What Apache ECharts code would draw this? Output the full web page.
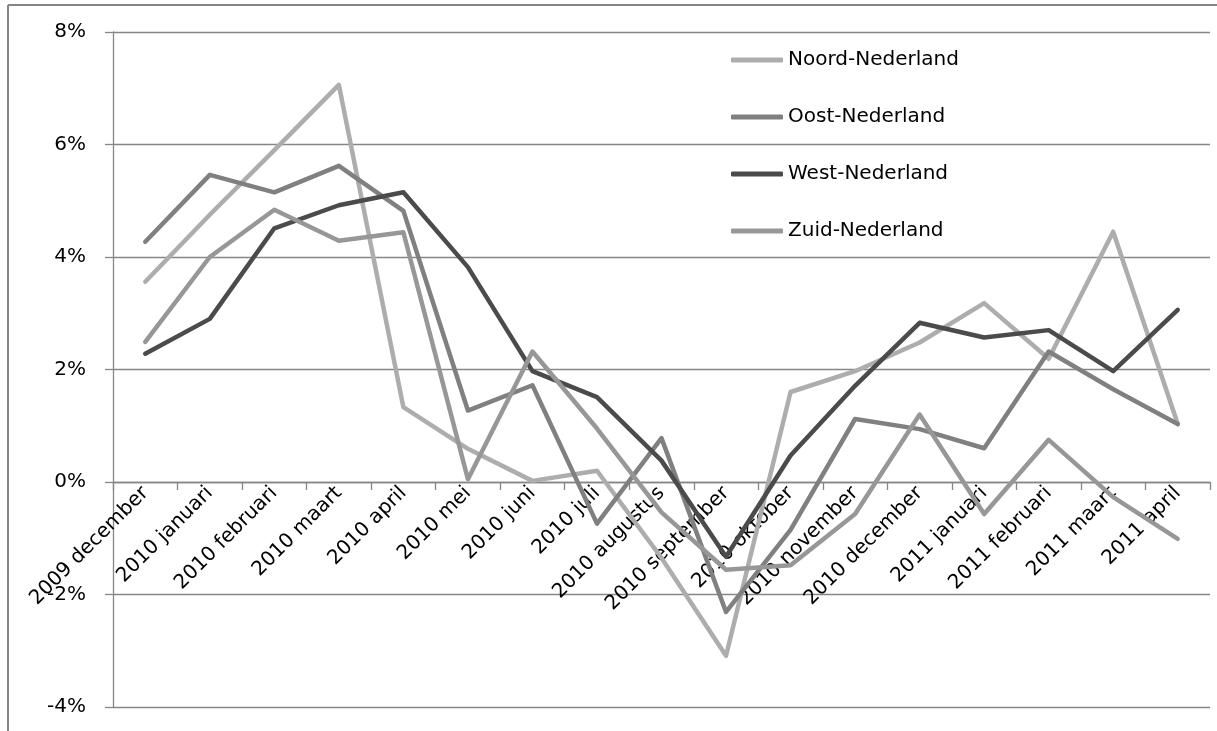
<!DOCTYPE html>
<html>
<head>
<meta charset="utf-8">
<script src="https://cdn.jsdelivr.net/npm/echarts@6/dist/echarts.min.js"></script>
<style>
html,body{margin:0;padding:0;background:#fff;}
#chart{width:1217px;height:731px;}
</style>
</head>
<body>
<div id="chart"></div>
<script>
var categories = ['2009 december','2010 januari','2010 februari','2010 maart','2010 april','2010 mei','2010 juni','2010 juli','2010 augustus','2010 september','2010 oktober','2010 november','2010 december','2011 januari','2011 februari','2011 maart','2011 april'];
var noord = [3.56, 4.75, 5.9, 7.06, 1.33, 0.59, 0.02, 0.2, -1.35, -3.09, 1.6, 1.97, 2.48, 3.18, 2.19, 4.45, 1.03];
var oost  = [4.27, 5.46, 5.15, 5.62, 4.82, 1.27, 1.72, -0.74, 0.78, -2.31, -0.85, 1.12, 0.94, 0.6, 2.32, 1.65, 1.03];
var west  = [2.28, 2.9, 4.51, 4.92, 5.15, 3.82, 1.97, 1.51, 0.38, -1.33, 0.47, 1.71, 2.83, 2.57, 2.7, 1.97, 3.06];
var zuid  = [2.49, 4.0, 4.84, 4.29, 4.44, 0.05, 2.32, 0.95, -0.54, -1.56, -1.48, -0.57, 1.2, -0.57, 0.75, -0.27, -1.01];
var seriesNames = ['Noord-Nederland','Oost-Nederland','West-Nederland','Zuid-Nederland'];
var seriesColors = ['#adadad','#808080','#4b4b4b','#979797'];
var seriesData = [noord, oost, west, zuid];
var yMin = -4, yMax = 8, yStep = 2;

var FONT = 'DejaVu Sans';
var AXIS = '#868686';
var gridTop = 32, gridBottom = 24, chartH = 731;
var plotH = chartH - gridTop - gridBottom;
var zeroOffset = -plotH * (0 - yMin) / (yMax - yMin);

var chart = echarts.init(document.getElementById('chart'));
chart.setOption({
  animation: false,
  backgroundColor: '#fff',
  textStyle: {fontFamily: FONT},
  grid: {left: 113, right: 7, top: gridTop, bottom: gridBottom, containLabel: false, outerBoundsMode: 'none'},
  legend: {
    orient: 'vertical',
    left: 731,
    top: 48,
    padding: 0,
    icon: 'roundRect',
    itemWidth: 52,
    itemHeight: 5,
    itemGap: 33,
    textStyle: {fontFamily: FONT, fontSize: 20, color: '#000', lineHeight: 24},
    data: seriesNames
  },
  xAxis: {
    type: 'category',
    data: categories,
    boundaryGap: true,
    position: 'bottom',
    offset: zeroOffset,
    axisLine: {show: true, onZero: false, lineStyle: {color: AXIS, width: 1.3}},
    axisTick: {show: true, inside: false, length: 8, interval: 0, lineStyle: {color: AXIS, width: 1.3}},
    axisLabel: {interval: 0, rotate: 45, margin: 8, color: '#000', fontFamily: FONT, fontSize: 20},
    splitLine: {show: false}
  },
  yAxis: {
    type: 'value',
    min: yMin, max: yMax, interval: yStep,
    axisLine: {show: true, lineStyle: {color: AXIS, width: 1.3}},
    axisTick: {show: true, inside: false, length: 8, lineStyle: {color: AXIS, width: 1.3}},
    axisLabel: {formatter: '{value}%', margin: 27, color: '#000', fontFamily: FONT, fontSize: 20},
    splitLine: {show: true, lineStyle: {color: AXIS, width: 1.3}}
  },
  graphic: [
    {type: 'line', shape: {x1: 8, y1: 5, x2: 1217, y2: 5}, style: {stroke: AXIS, lineWidth: 2}},
    {type: 'line', shape: {x1: 8, y1: 5, x2: 8, y2: 731}, style: {stroke: AXIS, lineWidth: 2}}
  ],
  series: seriesNames.map(function(n, i){
    return {
      name: n,
      type: 'line',
      data: seriesData[i],
      symbol: 'none',
      smooth: false,
      color: seriesColors[i],
      itemStyle: {color: seriesColors[i]},
      lineStyle: {color: seriesColors[i], width: 4.5, cap: 'round', join: 'round'},
      emphasis: {disabled: true}
    };
  })
});
</script>
</body>
</html>
